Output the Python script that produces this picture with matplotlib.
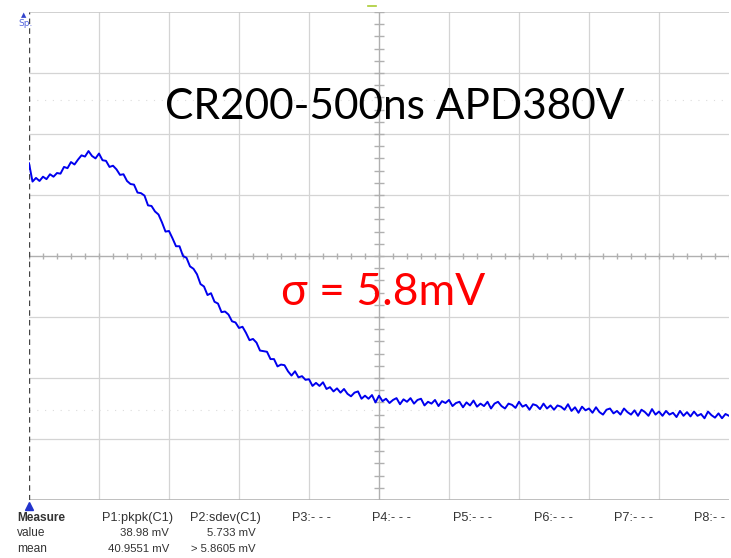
import numpy as np
import matplotlib
matplotlib.use('Agg')
import matplotlib.pyplot as plt

# trace, in divisions (10 across, 8 high, centre = 0)
trace = [
    1.52, 1.22, 1.28, 1.23, 1.30, 1.26, 1.34, 1.30, 1.36, 1.35,
    1.46, 1.44, 1.54, 1.50, 1.58, 1.65, 1.63, 1.72, 1.64, 1.60,
    1.68, 1.57, 1.56, 1.46, 1.48, 1.42, 1.33, 1.34, 1.23, 1.18,
    1.17, 1.04, 1.03, 0.99, 0.83, 0.82, 0.73, 0.68, 0.55, 0.40,
    0.41, 0.29, 0.16, 0.16, 0.00, -0.03, -0.17, -0.21, -0.30, -0.46,
    -0.50, -0.64, -0.61, -0.75, -0.78, -0.92, -0.91, -0.96, -1.07, -1.09,
    -1.18, -1.16, -1.26, -1.38, -1.36, -1.42, -1.55, -1.56, -1.57, -1.69,
    -1.69, -1.81, -1.78, -1.79, -1.89, -1.96, -1.89, -1.99, -1.97, -2.03,
    -2.02, -2.13, -2.08, -2.13, -2.07, -2.18, -2.15, -2.22, -2.17, -2.24,
    -2.18, -2.26, -2.30, -2.24, -2.22, -2.34, -2.29, -2.34, -2.28, -2.40,
    -2.29, -2.38, -2.34, -2.41, -2.36, -2.33, -2.43, -2.35, -2.39, -2.33,
    -2.42, -2.36, -2.34, -2.45, -2.39, -2.42, -2.36, -2.46, -2.38, -2.41,
    -2.36, -2.46, -2.41, -2.39, -2.48, -2.40, -2.45, -2.37, -2.47, -2.42,
    -2.46, -2.39, -2.50, -2.42, -2.39, -2.46, -2.50, -2.42, -2.44, -2.49,
    -2.39, -2.47, -2.44, -2.52, -2.43, -2.45, -2.51, -2.42, -2.50, -2.45,
    -2.52, -2.45, -2.47, -2.52, -2.43, -2.54, -2.48, -2.57, -2.47, -2.53,
    -2.50, -2.57, -2.48, -2.56, -2.60, -2.52, -2.50, -2.58, -2.54, -2.60,
    -2.50, -2.56, -2.60, -2.53, -2.62, -2.52, -2.56, -2.62, -2.51, -2.60,
    -2.55, -2.62, -2.54, -2.60, -2.57, -2.64, -2.54, -2.62, -2.56, -2.63,
    -2.55, -2.62, -2.59, -2.66, -2.55, -2.61, -2.65, -2.58, -2.66, -2.59,
    -2.62,
]
t = np.linspace(0, 10, len(trace))

title = "CR200-500ns APD380V"
sigma_label = "σ = 5.8mV"

meas_rows = ["Measure", "value", "mean"]
p1 = ["P1:pkpk(C1)", "38.98 mV", "40.9551 mV"]
p2 = ["P2:sdev(C1)", "5.733 mV", "> 5.8605 mV"]
empty_params = ["P3:- - -", "P4:- - -", "P5:- - -", "P6:- - -", "P7:- - -", "P8:- -"]

W, H = 731, 558
fig = plt.figure(figsize=(W / 100, H / 100), dpi=100)
ax = fig.add_axes([29 / W, 58 / H, 700 / W, 488 / H])
ax.set_xlim(0, 10)
ax.set_ylim(-4, 4)
ax.axis('off')

# graticule
for i in range(1, 10):
    if i != 5:
        ax.axvline(i, color='#d4d4d4', lw=0.9, zorder=1)
for j in range(-3, 4):
    if j != 0:
        ax.axhline(j, color='#d4d4d4', lw=0.9, zorder=1)
ax.axhline(4, color='#c8c8c8', lw=1.2, zorder=1)
ax.axhline(-4, color='#b4b4b4', lw=1.2, zorder=1)
for yy in (2.55, -2.52):
    ax.axhline(yy, color='#dcdcdc', lw=0.8, ls=(0, (1, 6)), zorder=1)

# centre cross with tick marks
ax.axvline(5, color='#b0b0b0', lw=1.0, zorder=1)
ax.axhline(0, color='#b0b0b0', lw=1.0, zorder=1)
ax.vlines(np.arange(0, 10.01, 0.2), -0.05, 0.05, color='#b0b0b0', lw=1.0, zorder=1)
ax.hlines(np.arange(-4, 4.01, 0.2), 4.93, 5.07, color='#b0b0b0', lw=1.0, zorder=1)

# left edge dashed axis
ax.axvline(0, color='#444444', lw=1.0, ls=(0, (4, 3)), zorder=2)

ax.plot(t, trace, color='#0000ee', lw=1.4, zorder=3)

# markers on screen
ax.plot([0], [-4.1], marker='^', color='#2233cc', ms=6, clip_on=False, zorder=4)
fig.text(18 / W, 1 - 24 / H, "Sp.", color='#5566dd', fontsize=6.5, va='center')
fig.text(24 / W, 1 - 15 / H, "▲", color='#3344cc', fontsize=5, va='center', ha='center')
fig.lines.append(plt.Line2D([368 / W, 376 / W], [1 - 6 / H, 1 - 6 / H],
                            color='#aacc33', lw=1.2, transform=fig.transFigure))

# annotations
fig.text(395 / W, 1 - 107 / H, title, fontsize=30.5, family='Lato',
         ha='center', va='center', color='black')
fig.text(383 / W, 1 - 292 / H, sigma_label, fontsize=32, family='Lato',
         ha='center', va='center', color='#ff0000')

# measurement table
ys = [518, 533, 549]
fs = 8.2
col = '#333333'
for k, (lab, y) in enumerate(zip(meas_rows, ys)):
    fig.text(17 / W, 1 - y / H, lab, fontsize=fs + 0.4, family='Liberation Sans',
             fontweight='bold' if k == 0 else 'normal', va='center', color=col)
fig.text(102 / W, 1 - ys[0] / H, p1[0], fontsize=fs + 1.0, family='Liberation Sans', va='center', color=col)
fig.text(190 / W, 1 - ys[0] / H, p2[0], fontsize=fs + 1.0, family='Liberation Sans', va='center', color=col)
for k in (1, 2):
    fig.text(169 / W, 1 - ys[k] / H, p1[k], fontsize=fs, family='Liberation Sans',
             va='center', ha='right', color=col)
    fig.text(256 / W, 1 - ys[k] / H, p2[k], fontsize=fs, family='Liberation Sans',
             va='center', ha='right', color=col)
for k, lab in enumerate(empty_params):
    fig.text((292 + 80.5 * k) / W, 1 - ys[0] / H, lab, fontsize=fs + 1.0,
             family='Liberation Sans', va='center', color=col)

fig.savefig('out.png', dpi=100, facecolor='white')
